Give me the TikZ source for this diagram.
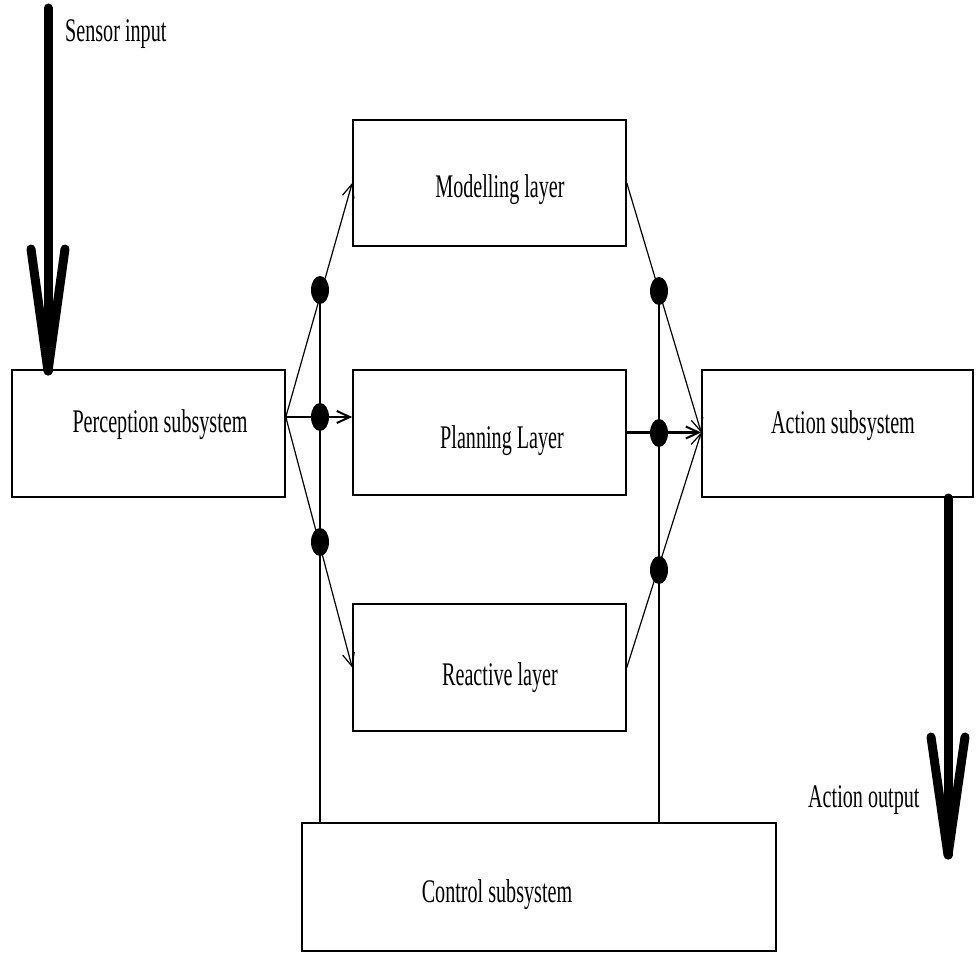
\documentclass[tikz,border=0pt]{standalone}
\usepackage{fontspec}
\setmainfont{Liberation Serif}
\usetikzlibrary{arrows.meta,calc,shapes.geometric}
\newcommand{\lbltext}[1]{\scalebox{0.61}[1]{\fontsize{33}{33}\selectfont #1}}
\tikzset{
  blockbox/.style={draw, line width=1.6pt, rectangle, inner sep=0pt, fill=none},
  lbl/.style={inner sep=0pt, anchor=base},
  lblw/.style={inner sep=0pt, anchor=base west},
  thin/.style={line width=1.2pt},
  flow/.style={line width=1.2pt, -{Straight Barb[length=13pt,width=12pt,line width=1.2pt]}},
  flowthick/.style={line width=2pt, -{Straight Barb[length=13pt,width=12pt,line width=2pt]}},
  dot/.style={ellipse, fill=black, draw=none, minimum width=18pt, minimum height=28pt, inner sep=0pt},
  bigarrow/.style={line width=9pt, line cap=round, line join=round}
}
\begin{document}
\begin{tikzpicture}[x=1pt,y=-1pt]
\useasboundingbox (0,0) rectangle (980,973);
% boxes
\node[blockbox, minimum width=273pt, minimum height=127pt] (perc) at (148.5,433.5) {};
\node[blockbox, minimum width=273pt, minimum height=126pt] (model) at (489.5,183) {};
\node[blockbox, minimum width=273pt, minimum height=125pt] (plan) at (489.5,432.5) {};
\node[blockbox, minimum width=273pt, minimum height=127pt] (react) at (489.5,667.5) {};
\node[blockbox, minimum width=271pt, minimum height=127pt] (action) at (837.5,433.5) {};
\node[blockbox, minimum width=474pt, minimum height=128pt] (ctrl) at (539,887) {};
% labels
\node[lbl] (tperc) at (160,432) {\lbltext{Perception subsystem}};
\node[lbl] (tmodel) at (500,198) {\lbltext{Modelling layer}};
\node[lbl] (tplan) at (502,449) {\lbltext{Planning Layer}};
\node[lbl] (treact) at (500,685) {\lbltext{Reactive layer}};
\node[lbl] (taction) at (843,433) {\lbltext{Action subsystem}};
\node[lbl] (tctrl) at (497,902) {\lbltext{Control subsystem}};
\node[lblw] (tsensor) at (65,42) {\lbltext{Sensor input}};
\node[lblw] (tout) at (808,807) {\lbltext{Action output}};
% coordinates
\coordinate (pout) at ($(perc.east)+(0,-16.5)$);
\coordinate (pin) at ($(plan.west)+(0,-15.5)$);
\coordinate (ain) at ($(action.west)+(0,-1)$);
% dots
\node[dot] (dl1) at (320,290) {};
\node[dot] (dl2) at (320,417) {};
\node[dot] (dl3) at (320,542) {};
\node[dot] (dr1) at (659,291) {};
\node[dot] (dr2) at (659,433) {};
\node[dot] (dr3) at (659,570) {};
% verticals to control
\draw[thin] (dl1.center) -- (dl1.center |- ctrl.north);
\draw[thin] (dr1.center) -- (dr1.center |- ctrl.north);
% left arrows
\draw[flow] (pout) -- (model.west);
\draw[flowthick] (pout) -- (pin);
\draw[flow] (pout) -- (react.west);
% right arrows
\draw[flow] (model.east) -- (ain);
\draw[flowthick] (plan.east |- ain) -- (ain);
\draw[flow] (react.east) -- (ain);
% big arrows
\coordinate (s0) at (48,8);
\coordinate (s1) at (48,371);
\coordinate (sl) at (31,249);
\coordinate (sr) at (65,249);
\draw[bigarrow] (s0) -- (s1);
\draw[bigarrow] (sl) -- (s1) -- (sr);
\coordinate (o0) at (948,498);
\coordinate (o1) at (948,855);
\coordinate (ol) at (931,737);
\coordinate (or) at (965,737);
\draw[bigarrow] (o0) -- (o1);
\draw[bigarrow] (ol) -- (o1) -- (or);
\end{tikzpicture}
\end{document}
